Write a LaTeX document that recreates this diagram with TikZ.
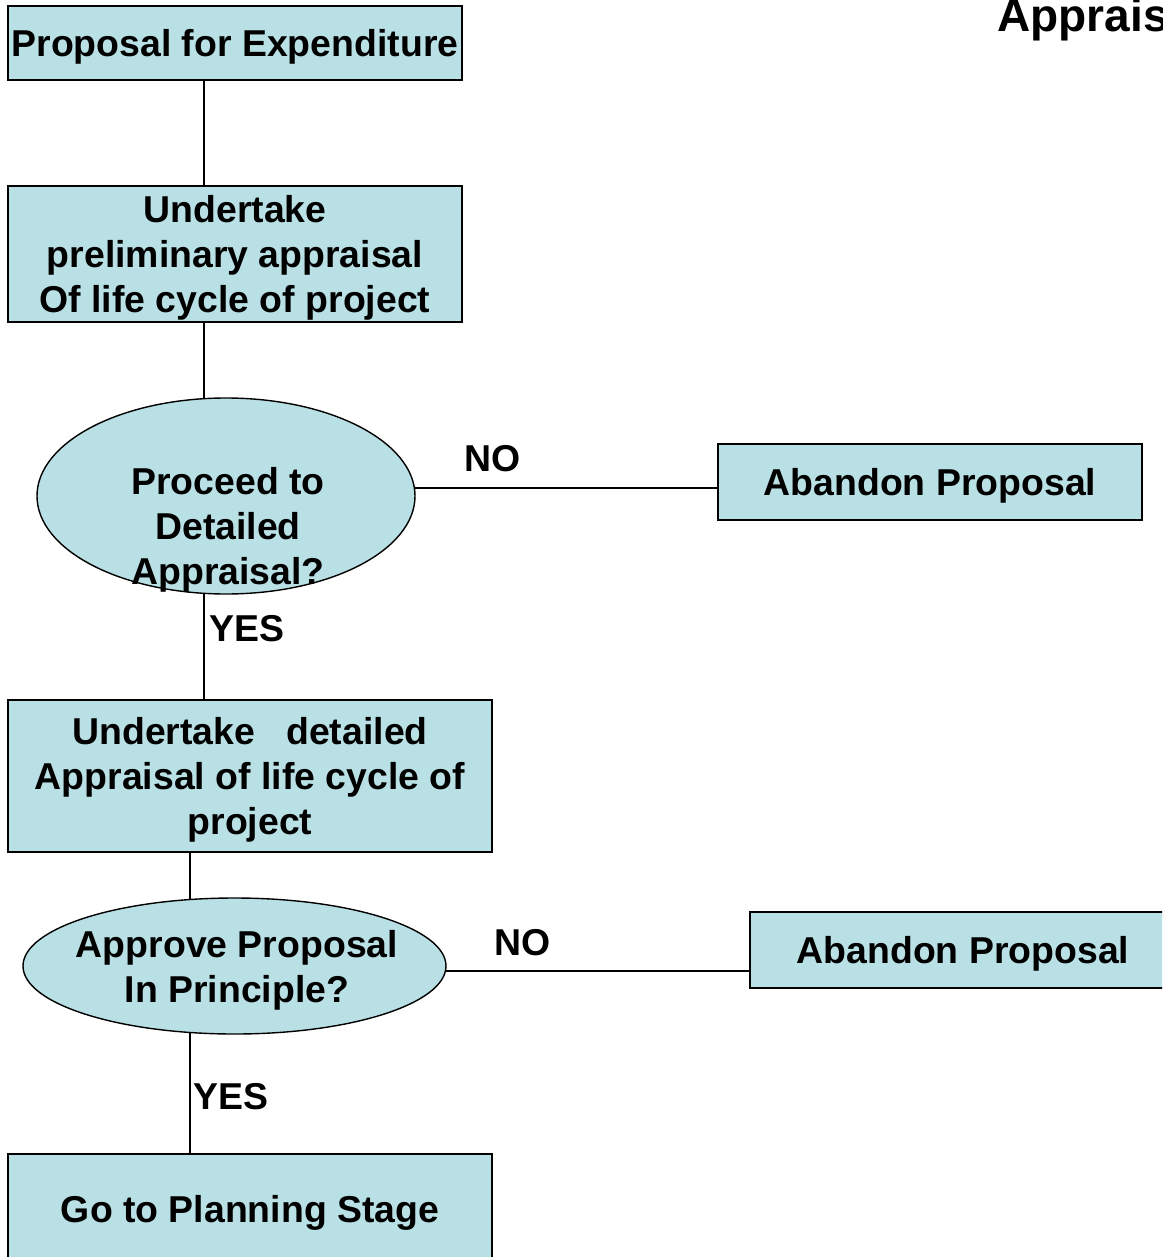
\documentclass[tikz,border=0pt]{standalone}
\usepackage{fontspec}
\setmainfont{Liberation Sans}
\usetikzlibrary{shapes.geometric,backgrounds}
\definecolor{boxfill}{RGB}{185,224,228}
\begin{document}
\begin{tikzpicture}[x=0.5pt,y=-0.5pt,
  every node/.style={font=\bfseries\fontsize{18.7pt}{22.5pt}\selectfont},
  box/.style={draw=black,line width=1pt,fill=boxfill,rectangle,inner sep=0pt,align=center,text depth=0pt},
  oval/.style={draw=black,line width=0.7pt,fill=boxfill,ellipse,inner sep=0pt},
  txt/.style={align=center,inner sep=0pt},
  conn/.style={draw=black,line width=1pt}]
\useasboundingbox (0,0) rectangle (1162,1257);
\clip (0,0) rectangle (1162,1257);
\node[box,minimum width=227pt,minimum height=37pt] (b1) at (235,43) {Proposal for Expenditure};
\node[box,minimum width=227pt,minimum height=68pt] (b2) at (235,254) {Undertake\\preliminary appraisal\\Of life cycle of project};
\node[oval,minimum width=189pt,minimum height=98pt] (e1) at (226,496) {};
\node[txt] (e1t) at (228,530) {Proceed to\\Detailed\\Appraisal?};
\node[box,minimum width=212pt,minimum height=38pt] (a1) at (930,482) {Abandon Proposal};
\node[box,minimum width=242pt,minimum height=76pt] (b3) at (250,776) {Undertake~~~detailed\\Appraisal of life cycle of\\project};
\node[oval,minimum width=211.5pt,minimum height=68pt] (e2) at (234.5,966) {};
\node[txt] (e2t) at (237,970) {Approve Proposal\\In Principle?};
\node[box,minimum width=213pt,minimum height=38pt] (a2) at (963,950) {Abandon Proposal};
\node[box,minimum width=242pt,minimum height=55pt] (b4) at (250,1209) {Go to Planning Stage};
\node[anchor=base west,inner sep=0pt,font=\bfseries\fontsize{23pt}{27pt}\selectfont] (title) at (997,32) {Appraisal};
\node[txt] (no1) at (493,459) {NO};
\node[txt] (yes1) at (247,629) {YES};
\node[txt] (no2) at (523,943) {NO};
\node[txt] (yes2) at (231,1097) {YES};
\coordinate (n1) at (226,488);
\coordinate (n2) at (234.5,971);
\begin{scope}[on background layer]
\draw[conn] (b1.south -| 204,0) -- (b2.north -| 204,0);
\draw[conn] (b2.south -| 204,0) -- (b3.north -| 204,0);
\draw[conn] (b3.south -| 190,0) -- (b4.north -| 190,0);
\draw[conn] (n1) -- (n1 -| a1.west);
\draw[conn] (n2) -- (n2 -| a2.west);
\end{scope}
\end{tikzpicture}
\end{document}
